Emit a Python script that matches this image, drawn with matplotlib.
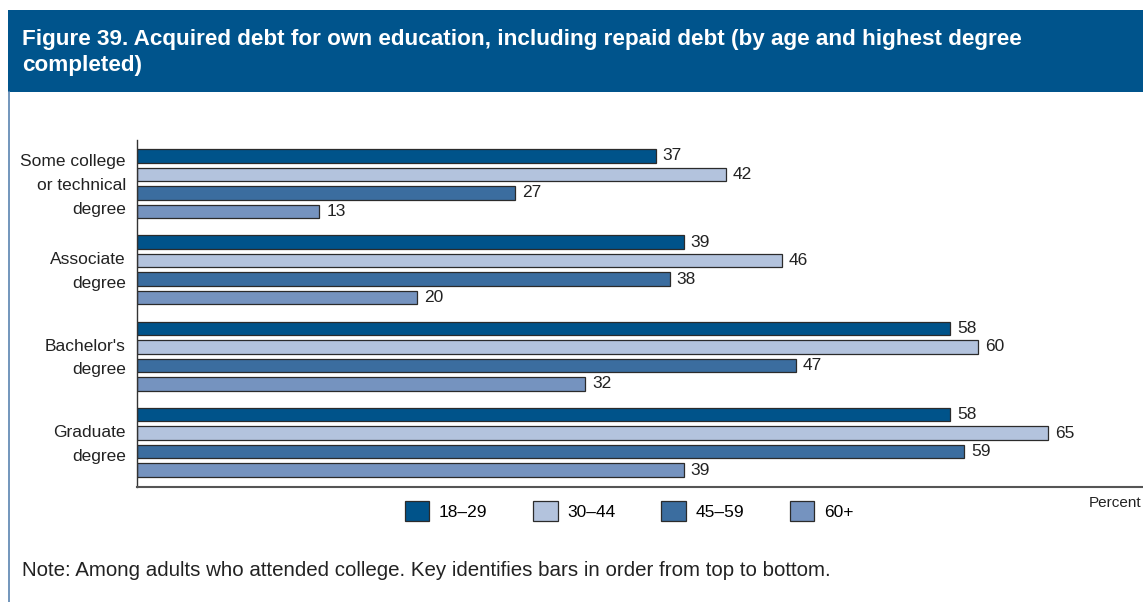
import matplotlib
matplotlib.use("Agg")
import matplotlib.pyplot as plt
from matplotlib.patches import Rectangle, Patch
from matplotlib.lines import Line2D
from matplotlib.transforms import ScaledTranslation
import numpy as np

categories = ["Some college\nor technical\ndegree", "Associate\ndegree", "Bachelor's\ndegree", "Graduate\ndegree"]
series_names = ["18\u201329", "30\u201344", "45\u201359", "60+"]
v_18_29 = [37, 39, 58, 58]
v_30_44 = [42, 46, 60, 65]
v_45_59 = [27, 38, 47, 59]
v_60p = [13, 20, 32, 39]
series_values = [v_18_29, v_30_44, v_45_59, v_60p]
colors = ["#00538a", "#b3c3dd", "#3b6d9f", "#7593bf"]

plt.rcParams['font.family'] = ['Liberation Sans', 'DejaVu Sans']

W, H = 1143, 602
fig = plt.figure(figsize=(W/100, H/100), dpi=100)

# title box
fig.patches.append(Rectangle((8/W, 1-92/H), 1-8/W, 82/H, transform=fig.transFigure,
                             facecolor="#00548c", edgecolor="none", zorder=0))
fig.add_artist(Line2D([9/W, 9/W], [0, 1-92/H], transform=fig.transFigure, color="#5a84b0", lw=1.2))
fig.text(22/W, 1-40/H, "Figure 39. Acquired debt for own education, including repaid debt (by age and highest degree",
         color="white", fontsize=16.2, fontweight="bold", va="center", ha="left")
fig.text(22/W, 1-66/H, "completed)", color="white", fontsize=16.2, fontweight="bold", va="center", ha="left")

ax = fig.add_axes([137/W, 1-487/H, (W-137)/W, (487-140)/H])
step = 18.5
gstep = 86.5 / step
bh = 13.5 / step
for j, (vals, c) in enumerate(zip(series_values, colors)):
    ys = np.arange(len(categories)) * gstep + j
    ax.barh(ys, vals, height=bh, color=c, edgecolor="#2b2b2b", linewidth=0.9, zorder=2)
    for y, v in zip(ys, vals):
        ax.text(v + 0.5, y, str(v), va="center", ha="left", fontsize=12.5, color="#222222")

centers = np.arange(len(categories)) * gstep + 1.5
ax.set_yticks(centers)
ax.set_yticklabels(categories, fontsize=12.5, color="#222222", linespacing=1.72)
ax.tick_params(axis='y', length=0, pad=8)
offset = ScaledTranslation(0, 0.04, fig.dpi_scale_trans)
for lab in ax.get_yticklabels():
    lab.set_transform(lab.get_transform() + offset)
ax.set_xticks([])
ymax = 3 * gstep + 3 + 17 / step
ax.set_ylim(ymax, -16 / step)
ax.set_xlim(0, (W - 137) / (1048 - 137) * 65)
for s in ["top", "right"]:
    ax.spines[s].set_visible(False)
ax.spines["left"].set_color("#333333")
ax.spines["bottom"].set_color("#555555")
ax.spines["left"].set_linewidth(1.0)
ax.spines["bottom"].set_linewidth(1.5)

handles = [Patch(facecolor=c, edgecolor="#2b2b2b", linewidth=0.9) for c in colors]
fig.legend(handles, series_names, ncol=4, loc="center left", bbox_to_anchor=(405/W, 1-511/H),
           frameon=False, fontsize=12.5, handlelength=1.4, handleheight=1.4, handletextpad=0.55,
           columnspacing=2.65, borderaxespad=0, borderpad=0)

fig.text(1141/W, 1-503/H, "Percent", fontsize=11, color="#222222", va="center", ha="right")
fig.text(22/W, 1-571/H, "Note: Among adults who attended college. Key identifies bars in order from top to bottom.",
         fontsize=14.8, color="#222222", va="center", ha="left")

fig.savefig("out.png", dpi=100)
